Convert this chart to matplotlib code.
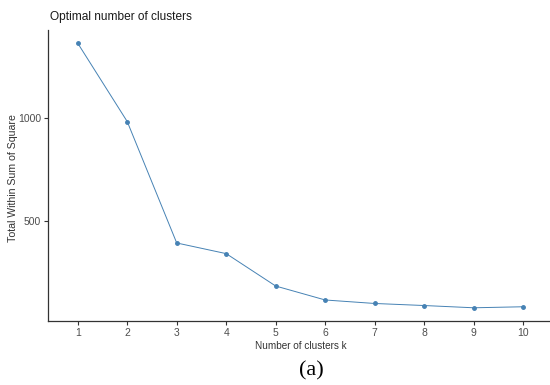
import matplotlib
matplotlib.use("Agg")
import matplotlib.pyplot as plt

k = [1, 2, 3, 4, 5, 6, 7, 8, 9, 10]
wss = [1365, 983, 391, 339, 181, 113, 96, 86, 75, 80]
yticks = [500, 1000]

plt.rcParams['font.family'] = ['Liberation Sans', 'DejaVu Sans']

fig = plt.figure(figsize=(5.5, 3.85), dpi=100)
ax = fig.add_axes([0.0873, 0.1662, 0.918, 0.756])
ax.plot(k, wss, color='#4682B4', lw=0.7, marker='o', ms=2.5, mec='#4682B4', mfc='#4682B4')
ax.set_xlim(0.4, 10.6)
ax.set_ylim(10.5, 1429.5)
ax.set_xticks(k)
ax.set_yticks(yticks)
for s in ['top', 'right']:
    ax.spines[s].set_visible(False)
for s in ['left', 'bottom']:
    ax.spines[s].set_color('#333333')
    ax.spines[s].set_linewidth(0.9)
ax.tick_params(axis='both', colors='#333333', labelcolor='#4d4d4d', labelsize=7.5, length=3, width=0.8, pad=2)
ax.set_xlabel('Number of clusters k', fontsize=7.2, color='#333333', labelpad=2)
ax.set_ylabel('Total Within Sum of Square', fontsize=7.6, color='#333333', va='center')
ax.yaxis.set_label_coords(-35 / 505, 0.49)
fig.text(50/550, 1 - 17/385, 'Optimal number of clusters', fontsize=8.6, color='#1a1a1a', ha='left', va='center')
fig.text(311/550, 1 - 371/385, '(a)', fontsize=16, family=['Liberation Serif', 'DejaVu Serif'], color='black', ha='center', va='center')
fig.savefig('out.png', dpi=100)
